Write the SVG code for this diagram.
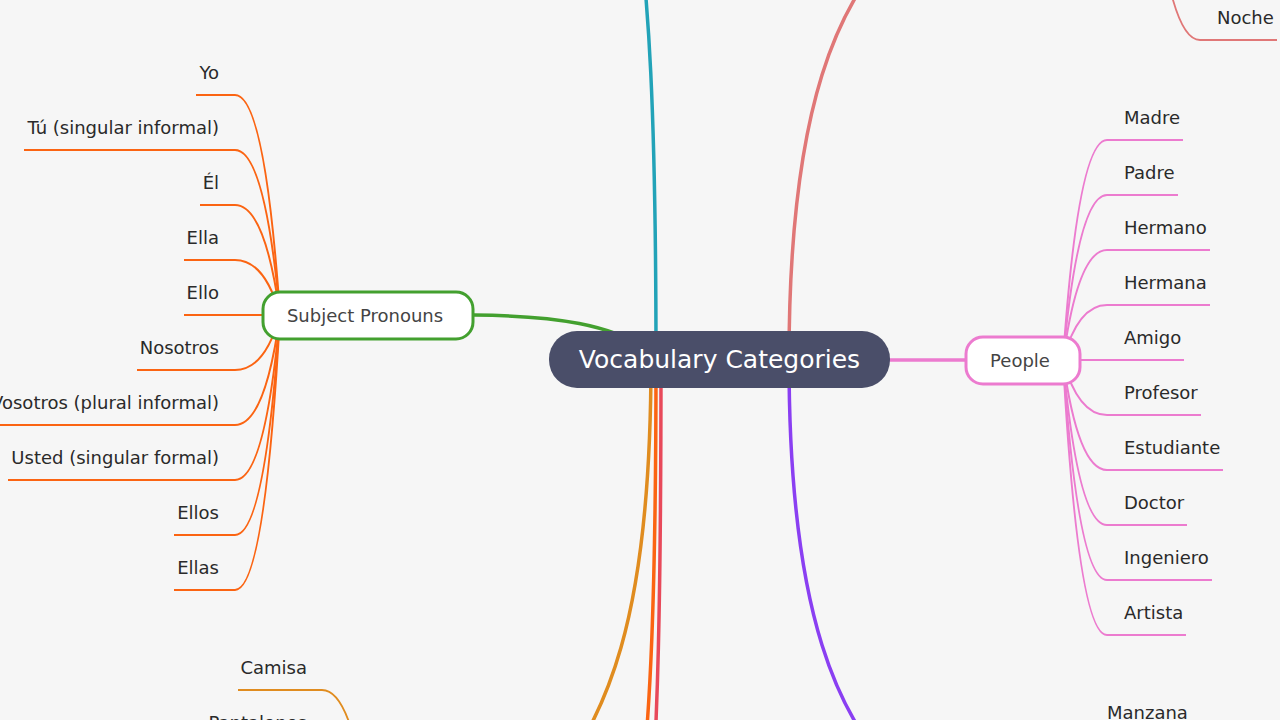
<svg xmlns="http://www.w3.org/2000/svg" width="1280" height="720" viewBox="0 0 1280 720">
<style>
  .leaf { font-family: "DejaVu Sans", Verdana, sans-serif; font-size: 18px; fill: #2a2a2a; }
  .lft { text-anchor: end; }
  .nodetxt { font-family: "DejaVu Sans", Verdana, sans-serif; font-size: 18px; fill: #444444; text-anchor: middle; }
  .roottxt { font-family: "DejaVu Sans", Verdana, sans-serif; font-size: 25px; fill: #ffffff; text-anchor: middle; }
  .br { fill: none; stroke-width: 3.5; stroke-linecap: round; }
  .lk { fill: none; stroke-width: 2; }
  .or { stroke: #fb6412; }
  .pk { stroke: #ec7bcf; }
  .sa { stroke: #e07777; }
  .go { stroke: #e08c1f; }
</style>
<rect width="1280" height="720" fill="#f6f6f6"/>

<g id="connectors">
  <!-- main branches from root -->
  <path class="br" stroke="#22a3b8" d="M 656 360 C 656 100, 648 0, 638 -80"/>
  <path class="br sa" d="M 789 360 C 789 100, 840 0, 900 -60"/>
  <path class="br" stroke="#8a3ff2" d="M 789 360 C 789 620, 840 720, 900 780"/>
  <path class="br go" d="M 651 360 C 651 620, 608 720, 540 800"/>
  <path class="br or" d="M 656 360 C 656 600, 650 720, 640 800"/>
  <path class="br" stroke="#e8495a" d="M 661 360 C 661 620, 657 720, 652 800"/>
  <path class="br" stroke="#43a02f" d="M 474 315 C 560 316, 610 325, 650 350"/>
  <path class="br pk" d="M 890 360 L 965 360"/>

  <!-- Subject Pronouns leaves -->
  <path class="lk or" d="M 280 315 Q 265 95 235 95 L 196 95"/>
  <path class="lk or" d="M 280 315 Q 265 150 235 150 L 24 150"/>
  <path class="lk or" d="M 280 315 Q 265 205 235 205 L 200 205"/>
  <path class="lk or" d="M 280 315 Q 265 260 235 260 L 184 260"/>
  <path class="lk or" d="M 280 315 L 184 315"/>
  <path class="lk or" d="M 280 315 Q 265 370 235 370 L 137 370"/>
  <path class="lk or" d="M 280 315 Q 265 425 235 425 L -4 425"/>
  <path class="lk or" d="M 280 315 Q 265 480 235 480 L 8 480"/>
  <path class="lk or" d="M 280 315 Q 265 535 235 535 L 174 535"/>
  <path class="lk or" d="M 280 315 Q 265 590 235 590 L 174 590"/>

  <!-- People leaves -->
  <path class="lk pk" d="M 1063 360 Q 1078 140 1107 140 L 1183 140"/>
  <path class="lk pk" d="M 1063 360 Q 1078 195 1107 195 L 1178 195"/>
  <path class="lk pk" d="M 1063 360 Q 1078 250 1107 250 L 1210 250"/>
  <path class="lk pk" d="M 1063 360 Q 1078 305 1107 305 L 1210 305"/>
  <path class="lk pk" d="M 1063 360 L 1184 360"/>
  <path class="lk pk" d="M 1063 360 Q 1078 415 1107 415 L 1201 415"/>
  <path class="lk pk" d="M 1063 360 Q 1078 470 1107 470 L 1223 470"/>
  <path class="lk pk" d="M 1063 360 Q 1078 525 1107 525 L 1187 525"/>
  <path class="lk pk" d="M 1063 360 Q 1078 580 1107 580 L 1212 580"/>
  <path class="lk pk" d="M 1063 360 Q 1078 635 1107 635 L 1186 635"/>

  <!-- partially visible leaves -->
  <path class="lk sa" d="M 1156 -100 Q 1171 40 1200 40 L 1277 40"/>
  <path class="lk go" d="M 367 810 Q 352 690 322 690 L 238 690"/>
</g>

<g id="node-subject-pronouns">
  <rect x="263" y="292" width="210" height="47" rx="17" fill="#ffffff" stroke="#43a02f" stroke-width="3"/>
  <text class="nodetxt" x="365" y="322">Subject Pronouns</text>
</g>

<g id="node-people">
  <rect x="966" y="337" width="114" height="47" rx="17" fill="#ffffff" stroke="#ec7bcf" stroke-width="3"/>
  <text class="nodetxt" x="1020" y="367">People</text>
</g>

<g id="node-root">
  <rect x="549" y="331" width="341" height="57" rx="28" fill="#4a4e69"/>
  <text class="roottxt" x="719.5" y="368">Vocabulary Categories</text>
</g>

<g id="leaves-subject-pronouns">
  <text class="leaf lft" x="219" y="79">Yo</text>
  <text class="leaf lft" x="219" y="134">Tú (singular informal)</text>
  <text class="leaf lft" x="219" y="189">Él</text>
  <text class="leaf lft" x="219" y="244">Ella</text>
  <text class="leaf lft" x="219" y="299">Ello</text>
  <text class="leaf lft" x="219" y="354">Nosotros</text>
  <text class="leaf lft" x="219" y="409">Vosotros (plural informal)</text>
  <text class="leaf lft" x="219" y="464">Usted (singular formal)</text>
  <text class="leaf lft" x="219" y="519">Ellos</text>
  <text class="leaf lft" x="219" y="574">Ellas</text>
</g>

<g id="leaves-people">
  <text class="leaf" x="1124" y="124">Madre</text>
  <text class="leaf" x="1124" y="179">Padre</text>
  <text class="leaf" x="1124" y="234">Hermano</text>
  <text class="leaf" x="1124" y="289">Hermana</text>
  <text class="leaf" x="1124" y="344">Amigo</text>
  <text class="leaf" x="1124" y="399">Profesor</text>
  <text class="leaf" x="1124" y="454">Estudiante</text>
  <text class="leaf" x="1124" y="509">Doctor</text>
  <text class="leaf" x="1124" y="564">Ingeniero</text>
  <text class="leaf" x="1124" y="619">Artista</text>
</g>

<g id="leaf-noche">
  <text class="leaf" x="1217" y="24">Noche</text>
</g>
<g id="leaf-camisa">
  <text class="leaf lft" x="307" y="674">Camisa</text>
</g>
<g id="leaf-pantalones">
  <text class="leaf lft" x="307" y="729">Pantalones</text>
</g>
<g id="leaf-manzana">
  <text class="leaf" x="1107" y="719">Manzana</text>
</g>
</svg>
